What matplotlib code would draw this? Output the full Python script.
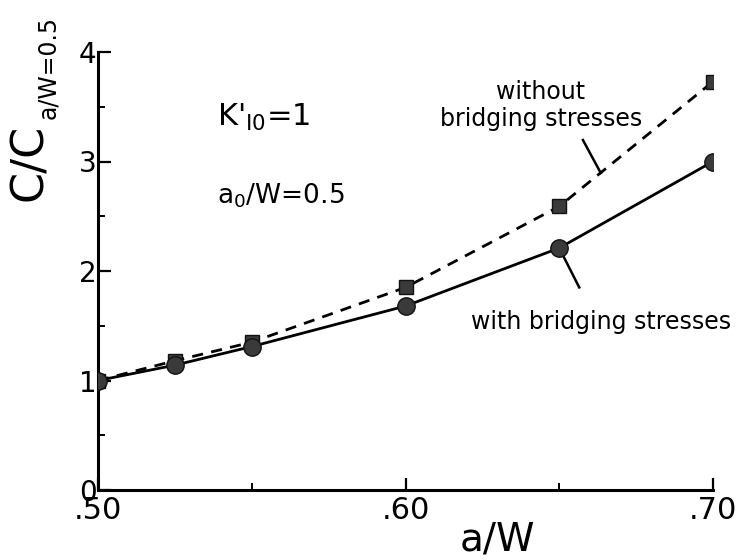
import matplotlib
matplotlib.use("Agg")
import matplotlib.pyplot as plt
from matplotlib.ticker import FixedLocator, FixedFormatter

plt.rcParams['font.family'] = ['DejaVu Sans']
plt.rcParams['mathtext.default'] = 'regular'

# crack length ratio a/W
a_over_w = [0.50, 0.525, 0.55, 0.60, 0.65, 0.70]
# normalized compliance C / C(a/W=0.5)
with_bridging = [1.00, 1.14, 1.31, 1.68, 2.21, 3.00]
without_bridging = [1.00, 1.18, 1.35, 1.85, 2.59, 3.73]

x_major = [0.50, 0.60, 0.70]
x_major_labels = ['.50', '.60', '.70']
x_minor = [0.55, 0.65]
y_major = [0, 1, 2, 3, 4]
y_minor = [0.5, 1.5, 2.5, 3.5]

fig = plt.figure(figsize=(7.36, 5.6), dpi=100)
ax = fig.add_axes([98/736, 1-490/560, (713-98)/736, (490-52)/560])
ax.set_xlim(0.50, 0.70)
ax.set_ylim(0, 4)

ax.plot(a_over_w, without_bridging, color='black', lw=2.0, ls=(0, (4, 3)),
        marker='s', ms=9.5, mfc='#3a3a3a', mec='#111111', mew=1.0, zorder=3)
ax.plot(a_over_w, with_bridging, color='black', lw=2.0, ls='-',
        marker='o', ms=12.5, mfc='#3a3a3a', mec='#111111', mew=1.0, zorder=4)

for side in ('top', 'right'):
    ax.spines[side].set_visible(False)
for side in ('left', 'bottom'):
    ax.spines[side].set_linewidth(2.2)
    ax.spines[side].set_clip_on(False)

ax.xaxis.set_major_locator(FixedLocator(x_major))
ax.xaxis.set_major_formatter(FixedFormatter(x_major_labels))
ax.xaxis.set_minor_locator(FixedLocator(x_minor))
ax.yaxis.set_major_locator(FixedLocator(y_major))
ax.yaxis.set_minor_locator(FixedLocator(y_minor))

ax.tick_params(axis='x', which='major', direction='in', length=9, width=1.6,
               labelsize=22, pad=4)
ax.tick_params(axis='x', which='minor', direction='in', length=5, width=1.4)
ax.tick_params(axis='y', which='major', direction='in', length=9, width=1.6,
               labelsize=20, pad=1)
ax.tick_params(axis='y', which='minor', direction='in', length=5, width=1.4)

# axis titles
fig.text(497/736, 1-540/560, 'a/W', fontsize=28, ha='center', va='center')
fig.text(29/736, 1-162/560, 'C/C', fontsize=32, rotation=90,
         ha='center', va='center')
fig.text(48/736, 1-119/560, 'a/W=0.5', fontsize=17, rotation=90,
         ha='center', va='bottom')

# parameter annotations
ax.text(0.5387, 3.40, r"K$'_{I0}$=1", fontsize=22, ha='left', va='center')
ax.text(0.5387, 2.69, r"a$_0$/W=0.5", fontsize=19, ha='left', va='center')

# curve labels with leader lines
ax.text(0.6440, 3.51, 'without\nbridging stresses', fontsize=17,
        ha='center', va='center', linespacing=1.15, multialignment='center')
ax.plot([0.6577, 0.6635], [3.196, 2.895], color='black', lw=1.8)
ax.text(0.6636, 1.534, 'with bridging stresses', fontsize=17,
        ha='center', va='center')
ax.plot([0.6500, 0.6565], [2.21, 1.85], color='black', lw=1.8)

fig.savefig('out.png', dpi=100)
